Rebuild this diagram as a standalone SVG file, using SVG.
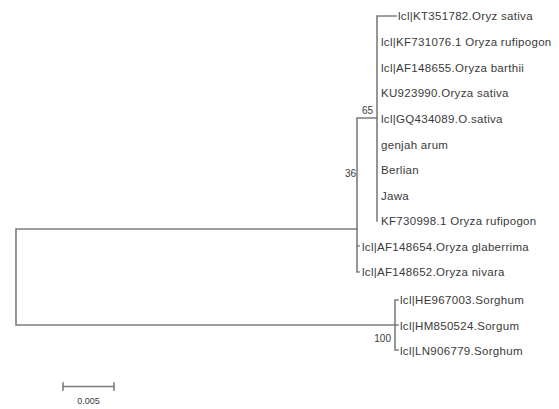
<svg xmlns="http://www.w3.org/2000/svg" width="559" height="409" viewBox="0 0 559 409">
<style>
.br{fill:none;stroke:#7d7d7d;stroke-width:1.6;stroke-linecap:square}
.lb{font-family:"Liberation Sans",Arial,sans-serif;font-size:11.5px;letter-spacing:0.3px;fill:#3a3a3a}
.bs{font-family:"Liberation Sans",Arial,sans-serif;font-size:10px;fill:#3a3a3a}
</style>
<rect width="559" height="409" fill="#ffffff"/>
<g id="connectors">
<path class="br" d="M16,229 H357 M16,229 V325 H395"/>
<path class="br" d="M357,118 V272 M357,118 H377 M357,246 H359 M357,272 H359"/>
<path class="br" d="M377,16 V221 M377,16 H396"/>
<path class="br" d="M395,300 V350 M395,300 H398 M395,325 H398 M395,350 H398"/>
</g>
<g id="n-KT351782"><text class="lb" x="398" y="20">lcl|KT351782.Oryz sativa</text></g>
<g id="n-KF731076"><text class="lb" x="381" y="46">lcl|KF731076.1 Oryza rufipogon</text></g>
<g id="n-AF148655"><text class="lb" x="381" y="71.5">lcl|AF148655.Oryza barthii</text></g>
<g id="n-KU923990"><text class="lb" x="381" y="97">KU923990.Oryza sativa</text></g>
<g id="n-GQ434089"><text class="lb" x="381" y="122.5">lcl|GQ434089.O.sativa</text></g>
<g id="n-genjah"><text class="lb" x="381" y="148.5">genjah arum</text></g>
<g id="n-berlian"><text class="lb" x="381" y="174">Berlian</text></g>
<g id="n-jawa"><text class="lb" x="381" y="199.5">Jawa</text></g>
<g id="n-KF730998"><text class="lb" x="381" y="225">KF730998.1 Oryza rufipogon</text></g>
<g id="n-AF148654"><text class="lb" x="362" y="250.5">lcl|AF148654.Oryza glaberrima</text></g>
<g id="n-AF148652"><text class="lb" x="362" y="276">lcl|AF148652.Oryza nivara</text></g>
<g id="n-HE967003"><text class="lb" x="400" y="304">lcl|HE967003.Sorghum</text></g>
<g id="n-HM850524"><text class="lb" x="400" y="329.5">lcl|HM850524.Sorgum</text></g>
<g id="n-LN906779"><text class="lb" x="400" y="354.5">lcl|LN906779.Sorghum</text></g>
<g id="support">
<text class="bs" x="373" y="114" text-anchor="end">65</text>
<text class="bs" x="356" y="177" text-anchor="end">36</text>
<text class="bs" x="391" y="342" text-anchor="end">100</text>
</g>
<g id="scale">
<path class="br" d="M63,386.5 H114 M63,383 V390 M114,383 V390"/>
<text class="bs" x="88.5" y="404" text-anchor="middle" style="font-size:9px">0.005</text>
</g>
</svg>
